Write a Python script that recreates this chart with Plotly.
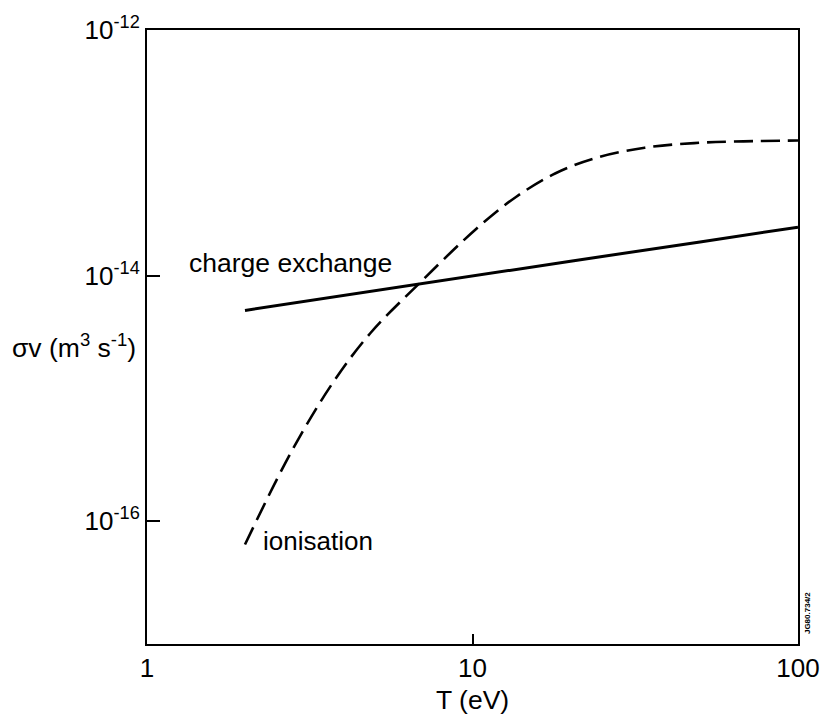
import plotly.graph_objects as go

# Rate coefficients <sigma v> versus temperature
T_cx = [2, 5, 10, 20, 50, 100]
sv_cx = [5.2e-15, 7.55e-15, 9.9e-15, 1.31e-14, 1.88e-14, 2.48e-14]

T_ion = [2, 2.78, 3.73, 4.86, 6.9, 10.3, 13.6, 18, 23.8, 33.8, 48, 68, 100]
sv_ion = [6.46e-17, 3.70e-16, 1.35e-15, 3.41e-15, 8.77e-15, 2.42e-14, 4.37e-14,
          6.82e-14, 9.04e-14, 1.10e-13, 1.20e-13, 1.24e-13, 1.26e-13]

x_ticks = [1, 10, 100]
x_ticktext = ["1", "10", "100"]
y_ticks = [1e-16, 1e-14, 1e-12]
y_ticktext = ["10<sup>-16</sup>", "10<sup>-14</sup>", "10<sup>-12</sup>"]

FONT = "Liberation Sans, Arial, Helvetica, sans-serif"

fig = go.Figure()
fig.add_trace(go.Scatter(x=T_cx, y=sv_cx, mode="lines",
                         line=dict(color="black", width=3),
                         showlegend=False))
fig.add_trace(go.Scatter(x=T_ion, y=sv_ion, mode="lines",
                         line=dict(color="black", width=2.6, dash="19px,8px",
                                   shape="spline", smoothing=1.0),
                         showlegend=False))

fig.update_layout(
    width=832, height=719,
    margin=dict(l=147, r=27, t=25, b=75),
    plot_bgcolor="white", paper_bgcolor="white",
    font=dict(family=FONT, size=25, color="black"),
    xaxis=dict(type="log", range=[0, 2], tickvals=x_ticks, ticktext=x_ticktext,
               ticks="inside", ticklen=10, tickwidth=2, tickcolor="black",
               showline=True, linecolor="black", linewidth=2, mirror=True,
               showgrid=False, zeroline=False, tickfont=dict(size=26)),
    yaxis=dict(type="log", range=[-17, -12], tickvals=y_ticks, ticktext=y_ticktext,
               ticks="inside", ticklen=13, tickwidth=2, tickcolor="black",
               showline=True, linecolor="black", linewidth=2, mirror=True,
               showgrid=False, zeroline=False, tickfont=dict(size=26)),
    annotations=[
        dict(text="T (eV)", xref="paper", yref="paper", x=0.5, y=-0.092,
             xanchor="center", yanchor="middle", showarrow=False,
             font=dict(size=26.5)),
        dict(text="σv (m<sup>3</sup> s<sup>-1</sup>)", xref="paper", yref="paper",
             x=-0.21, y=0.486, xanchor="left", yanchor="middle",
             showarrow=False, font=dict(size=26.5)),
        dict(text="charge exchange", xref="x", yref="y", x=0.122, y=-13.895,
             xanchor="left", yanchor="middle", showarrow=False,
             font=dict(size=26.5)),
        dict(text="ionisation", xref="x", yref="y", x=0.35, y=-16.161,
             xanchor="left", yanchor="middle", showarrow=False,
             font=dict(size=26)),
        dict(text="<b>JG80.734/2</b>", xref="paper", yref="paper", x=1.015, y=0.05,
             xanchor="center", yanchor="middle", textangle=-90,
             showarrow=False, font=dict(size=8)),
    ],
)

fig.write_html("out.html")
